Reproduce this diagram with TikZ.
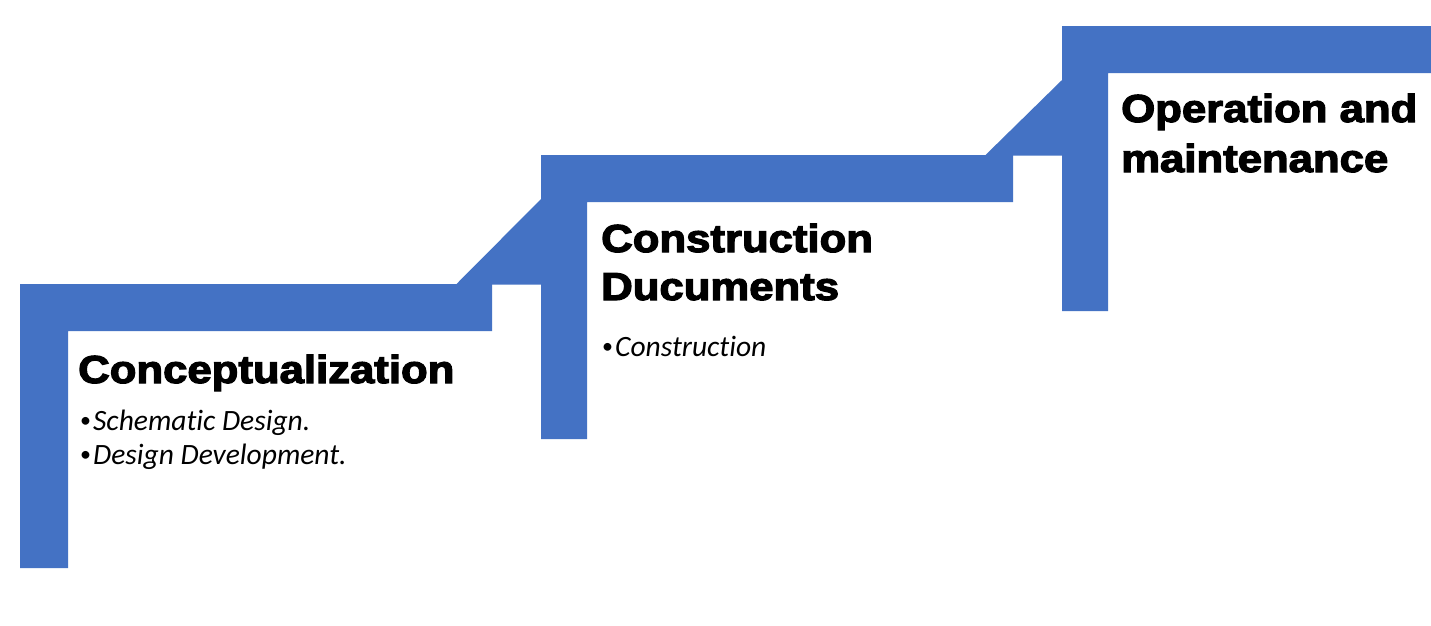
\documentclass[tikz,border=0pt]{standalone}
\usepackage{fontspec}
\setmainfont{Carlito}[Ligatures={NoCommon,NoRare,NoDiscretionary,NoContextual}]
\newfontfamily\heavy{Liberation Sans}[UprightFont=*-Bold,UprightFeatures={FakeBold=3}]
\definecolor{stepblue}{HTML}{4472C4}
\newcommand{\stepbullet}{\raisebox{3pt}{\fontsize{22}{22}\selectfont•}\hspace{2pt}}
\begin{document}
\begin{tikzpicture}[x=1pt,y=-1pt,
  stepfill/.style={fill=stepblue,draw=none},
  title/.style={anchor=base west,inner sep=0pt,font=\heavy\fontsize{39}{48}\selectfont,xscale=1.12,transform shape},
  item/.style={anchor=base west,inner sep=0pt,font=\fontsize{29.5}{34}\selectfont}]
\useasboundingbox[fill=white] (0,0) rectangle (1431,625);
% step 1
\fill[stepfill] (20,284) -- (492,284) -- (492,331) -- (68,331) -- (68,568) -- (20,568) -- cycle;
\fill[stepfill] (456,284.5) -- (541,199) -- (541,284.5) -- cycle;
% step 2
\fill[stepfill] (541,155) -- (1013,155) -- (1013,202) -- (587,202) -- (587,439) -- (541,439) -- cycle;
\fill[stepfill] (985,155.5) -- (1062,80) -- (1062,155.5) -- cycle;
% step 3
\fill[stepfill] (1062,26) -- (1431,26) -- (1431,73) -- (1108,73) -- (1108,311) -- (1062,311) -- cycle;
% texts
\node[title] (t1) at (78,383) {Conceptualization};
\node[item] (b1a) at (80,430) {\stepbullet\textit{Schematic Design.}};
\node[item] (b1b) at (80,464) {\stepbullet\textit{Design Development.}};
\node[title] (t2a) at (601,252) {Construction};
\node[title] (t2b) at (601,300) {Ducuments};
\node[item] (b2a) at (602,356) {\stepbullet\textit{Construction}};
\node[title] (t3a) at (1121,122) {Operation and};
\node[title] (t3b) at (1121,172) {maintenance};
\end{tikzpicture}
\end{document}
